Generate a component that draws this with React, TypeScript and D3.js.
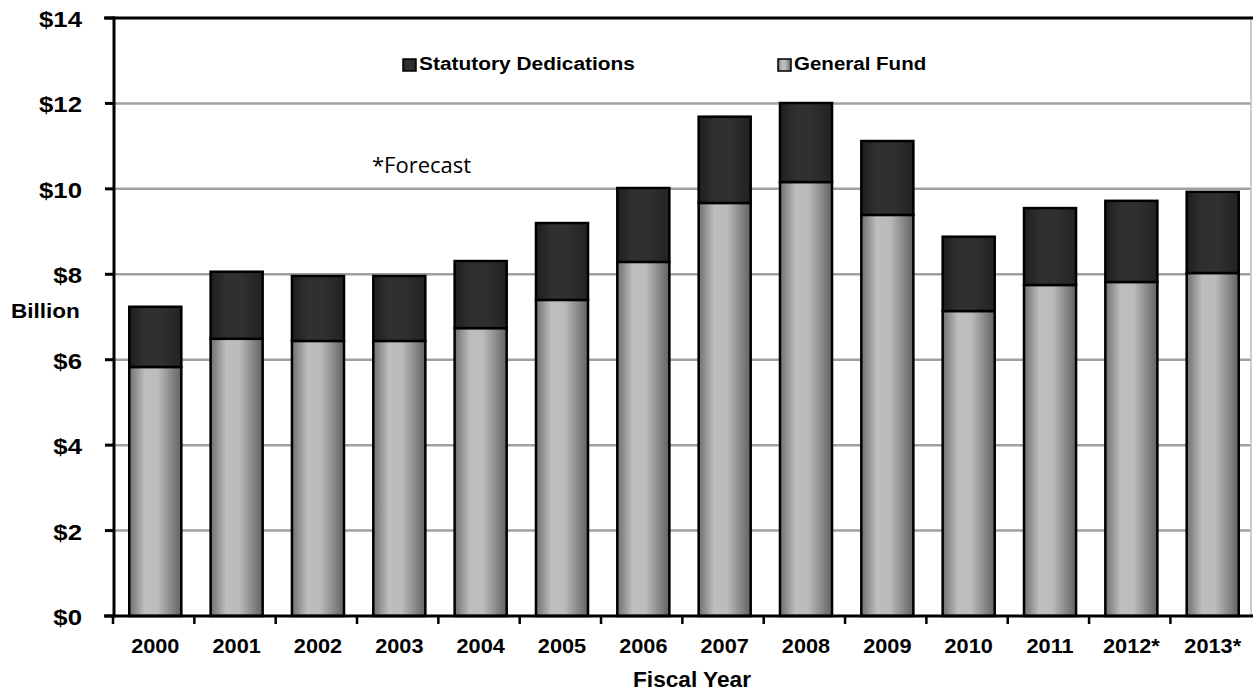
import React from "react";
import * as d3 from "d3";

const categories = ["2000","2001","2002","2003","2004","2005","2006","2007","2008","2009","2010","2011","2012*","2013*"];
const generalFund = [5.83,6.49,6.44,6.44,6.74,7.40,8.29,9.67,10.16,9.39,7.14,7.75,7.82,8.03];
const statDed = [1.41,1.57,1.52,1.52,1.57,1.80,1.73,2.02,1.85,1.73,1.74,1.80,1.90,1.90];
const yTicks = [0,2,4,6,8,10,12,14];
const tickLabels = ["$0","$2","$4","$6","$8","$10","$12","$14"];

function BoldText({ x, y, anchor, size, sx, children }: any) {
  return (
    <text
      transform={`translate(${x},${y}) scale(${sx},1)`}
      textAnchor={anchor}
      fontSize={size}
      fontFamily="Arial, 'Liberation Sans', sans-serif"
      fontWeight={700}
    >
      {children}
    </text>
  );
}

export default function App() {
  const W = 1253, H = 694;
  const x = d3.scaleBand<string>().domain(categories).range([113, 1255]).paddingInner(0.36).paddingOuter(0.2);
  const y = d3.scaleLinear().domain([0, 14]).range([616, 18]);
  const step = x.step();
  return (
    <svg width={W} height={H} style={{ position: "absolute", left: 0, top: 0, background: "#fff" }}>
      <defs>
        <linearGradient id="gf" x1="0" x2="1" y1="0" y2="0">
          <stop offset="0" stopColor="#707070" />
          <stop offset="0.3" stopColor="#bebebe" />
          <stop offset="0.55" stopColor="#bbbbbb" />
          <stop offset="1" stopColor="#626262" />
        </linearGradient>
        <linearGradient id="sd" x1="0" x2="1" y1="0" y2="0">
          <stop offset="0" stopColor="#1e1e1e" />
          <stop offset="0.3" stopColor="#303030" />
          <stop offset="0.6" stopColor="#303030" />
          <stop offset="1" stopColor="#222222" />
        </linearGradient>
      </defs>
      {/* gridlines */}
      {yTicks.filter(t => t > 0 && t < 14).map(t => (
        <line key={t} x1={114} x2={1251} y1={y(t)} y2={y(t)} stroke="#a0a0a0" strokeWidth={2.5} />
      ))}
      <line x1={1251} x2={1251} y1={y(14)} y2={y(0)} stroke="#bdbdbd" strokeWidth={1.5} />
      <line x1={104} x2={W} y1={y(14)} y2={y(14)} stroke="#000" strokeWidth={3} />
      {/* bars */}
      {categories.map((c, i) => {
        const bx = x(c)!;
        const bw = x.bandwidth();
        const g = generalFund[i];
        const s = statDed[i];
        return (
          <g key={c}>
            <rect x={bx} y={y(g)} width={bw} height={y(0) - y(g)} fill="url(#gf)" stroke="#000" strokeWidth={2.5} />
            <rect x={bx} y={y(g + s)} width={bw} height={y(g) - y(g + s)} fill="url(#sd)" stroke="#000" strokeWidth={2.5} />
          </g>
        );
      })}
      {/* y axis */}
      <line x1={114} x2={114} y1={y(14) - 1.5} y2={y(0) + 1.5} stroke="#000" strokeWidth={3} />
      {yTicks.map((t, i) => (
        <g key={t}>
          <line x1={105} x2={114} y1={y(t)} y2={y(t)} stroke="#000" strokeWidth={3} />
          <BoldText x={82} y={y(t) + 9} anchor="end" size={23} sx={1.12}>{tickLabels[i]}</BoldText>
        </g>
      ))}
      {/* x axis */}
      <line x1={104} x2={W} y1={y(0)} y2={y(0)} stroke="#000" strokeWidth={3} />
      {categories.map((c, i) => (
        <g key={c}>
          <line x1={113 + i * step} x2={113 + i * step} y1={616} y2={624} stroke="#000" strokeWidth={2.5} />
          <BoldText x={x(c)! + x.bandwidth() / 2} y={653} anchor="middle" size={20.5} sx={1.06}>{c}</BoldText>
        </g>
      ))}
      <BoldText x={692} y={687} anchor="middle" size={22} sx={1.03}>Fiscal Year</BoldText>
      <BoldText x={11} y={318} anchor="start" size={20.5} sx={1.1}>Billion</BoldText>
      {/* legend */}
      <rect x={403} y={59} width={13} height={12} fill="url(#sd)" stroke="#000" strokeWidth={1.5} />
      <BoldText x={419} y={70} anchor="start" size={19} sx={1.1}>Statutory Dedications</BoldText>
      <rect x={778} y={59} width={13} height={12} fill="url(#gf)" stroke="#000" strokeWidth={1.5} />
      <BoldText x={794} y={70} anchor="start" size={19} sx={1.08}>General Fund</BoldText>
      <text x={372} y={173} fontSize={22} fontFamily="'Open Sans', Lato, sans-serif">*Forecast</text>
    </svg>
  );
}
